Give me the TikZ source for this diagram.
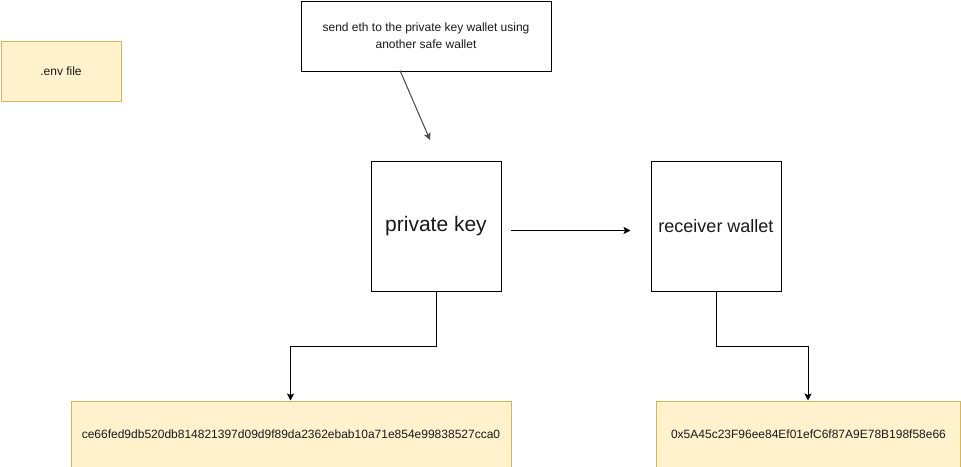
\documentclass[tikz,border=0pt]{standalone}
\usepackage{fontspec}
\setmainfont{Liberation Sans}
\usetikzlibrary{arrows.meta}
\begin{document}
\begin{tikzpicture}[x=1pt,y=-1pt,
  plain/.style={draw=black,fill=white,line width=1pt,inner sep=0pt,anchor=north west,align=center,text=black!90},
  note/.style={draw={rgb,255:red,214;green,182;blue,86},fill={rgb,255:red,255;green,242;blue,204},line width=1pt,inner sep=0pt,anchor=north west,align=center,text=black!90},
  conn/.style={line width=1pt,-{Stealth[length=7pt,width=7pt,inset=1.5pt]}}]
\useasboundingbox (0,0) rectangle (961,466);
\node[note,minimum width=120pt,minimum height=60pt,font=\fontsize{12}{14}\selectfont] (env) at (0.5,40.5) {.env file};
\node[plain,minimum width=250pt,minimum height=70pt,font=\fontsize{12}{17}\selectfont] (send) at (300.5,0.5) {send eth to the private key wallet using\\another safe wallet};
\node[plain,minimum width=130pt,minimum height=130pt,font=\fontsize{21}{24}\selectfont] (pk) at (370.5,160.5) {private key};
\node[plain,minimum width=130pt,minimum height=130pt,font=\fontsize{18}{22}\selectfont] (rw) at (650.5,160.5) {receiver wallet};
\node[note,minimum width=440pt,minimum height=66pt,font=\fontsize{12}{14}\selectfont] (hex) at (70.5,400.5) {ce66fed9db520db814821397d09d9f89da2362ebab10a71e854e99838527cca0};
\node[note,minimum width=304pt,minimum height=66pt,font=\fontsize{12}{14}\selectfont] (addr) at (656,400.5) {0x5A45c23F96ee84Ef01efC6f87A9E78B198f58e66};
\coordinate (t1) at (400,70.5);
\coordinate (t2) at (430,140);
\draw[conn,draw=black!70,fill=black] (t1) -- (t2);
\coordinate (a1) at (510.5,230.5);
\coordinate (a2) at (630.5,230.5);
\draw[conn] (a1) -- (a2);
\draw[conn] (pk.south) -- ++(0,55) -| (290.5,400.5);
\draw[conn] (rw.south) -- ++(0,55) -| (808,400.5);
\end{tikzpicture}
\end{document}
